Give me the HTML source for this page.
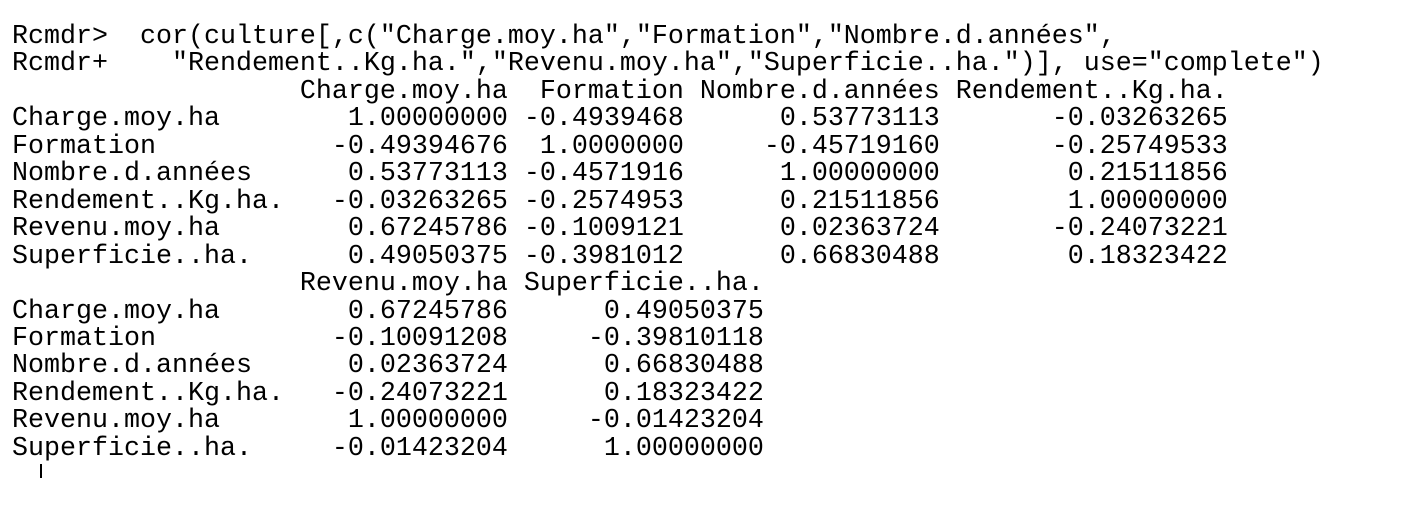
<!DOCTYPE html>
<html><head><meta charset="utf-8"><style>
html,body{margin:0;padding:0;background:#fff;width:1406px;height:518px;overflow:hidden}
pre{position:absolute;left:12px;top:24px;margin:0;font-family:"Liberation Mono",monospace;font-size:26.67px;line-height:27.45px;color:#000}
#cursor{position:absolute;left:40px;top:464px;width:2px;height:14px;background:#000}
</style></head><body>
<pre>Rcmdr>  cor(culture[,c("Charge.moy.ha","Formation","Nombre.d.années",
Rcmdr+    "Rendement..Kg.ha.","Revenu.moy.ha","Superficie..ha.")], use="complete")
                  Charge.moy.ha  Formation Nombre.d.années Rendement..Kg.ha.
Charge.moy.ha        1.00000000 -0.4939468      0.53773113       -0.03263265
Formation           -0.49394676  1.0000000     -0.45719160       -0.25749533
Nombre.d.années      0.53773113 -0.4571916      1.00000000        0.21511856
Rendement..Kg.ha.   -0.03263265 -0.2574953      0.21511856        1.00000000
Revenu.moy.ha        0.67245786 -0.1009121      0.02363724       -0.24073221
Superficie..ha.      0.49050375 -0.3981012      0.66830488        0.18323422
                  Revenu.moy.ha Superficie..ha.
Charge.moy.ha        0.67245786      0.49050375
Formation           -0.10091208     -0.39810118
Nombre.d.années      0.02363724      0.66830488
Rendement..Kg.ha.   -0.24073221      0.18323422
Revenu.moy.ha        1.00000000     -0.01423204
Superficie..ha.     -0.01423204      1.00000000</pre>
<div id="cursor"></div>
</body></html>
